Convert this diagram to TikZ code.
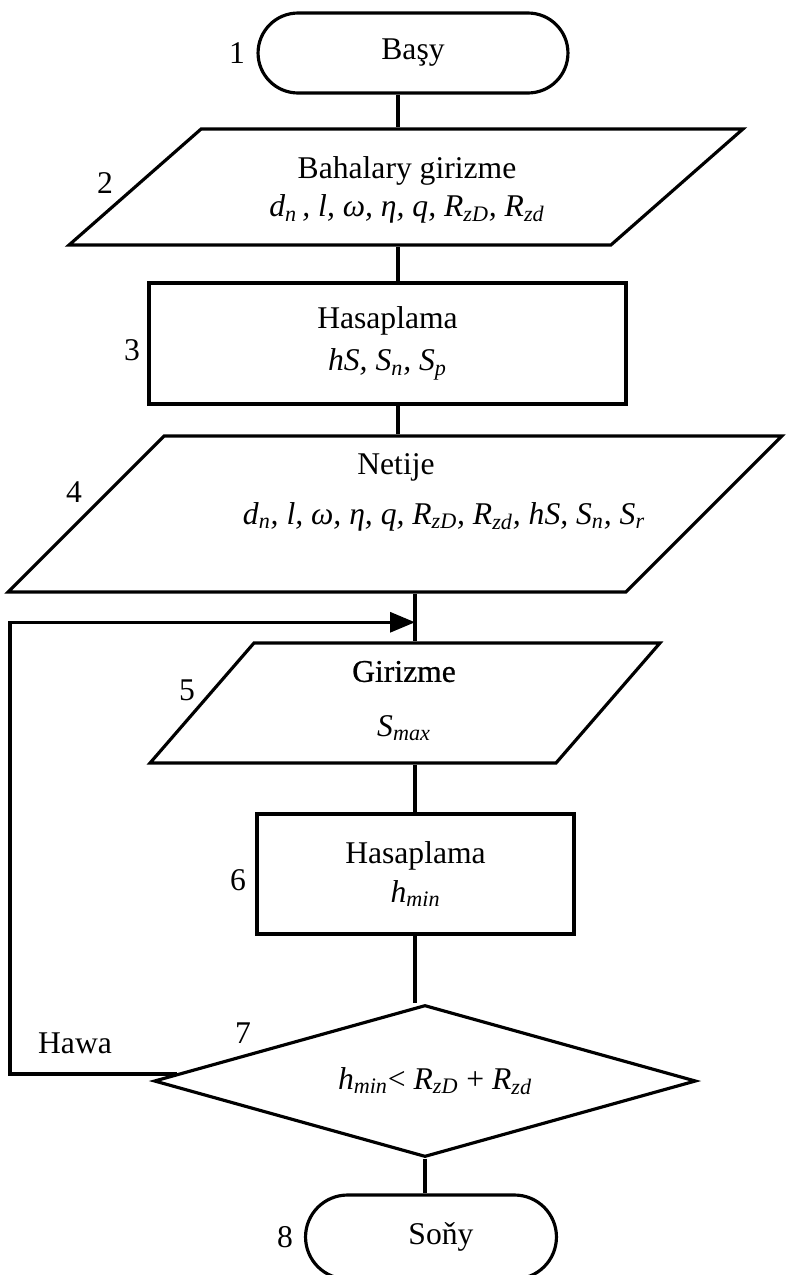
\documentclass[tikz,border=0pt]{standalone}
\usepackage{fontspec}
\setmainfont{Liberation Serif}
\newfontfamily\heavyfont[FakeBold=0.7]{Liberation Serif}
\usetikzlibrary{shapes.geometric,shapes.misc,arrows.meta,calc}
\tikzset{
    block/.style={
           draw=black, line width=1.8pt,
           font=\fontsize{18}{22}\selectfont,
           align=center,
           inner sep=2pt
           },
    term/.style={block, rounded rectangle},
    io/.style={block, trapezium, trapezium stretches body=true,
           inner sep=0pt, text width=1cm, text depth=0pt},
    proc/.style={block, rectangle},
    check/.style={block, diamond},
    num/.style={font=\fontsize{18}{22}\selectfont, inner sep=0pt, align=center},
    conn/.style={line width=1.8pt},
}

\begin{document}
\begin{tikzpicture}[x=0.02cm,y=-0.02cm]
    \useasboundingbox (0,0) rectangle (785,1275);

    % blocks of the flowchart
    \node[term, minimum width=6.34cm, minimum height=1.6cm] (start) at (413,53) {Başy};
    \node[io, minimum width=13.48cm, text height=2.32cm,
          trapezium left angle=41.3, trapezium right angle=138.7] (input) at (406,187) {};
    \node[num] (intext) at (407,190)
        {Bahalary girizme\\
         \textit{d\textsubscript{n}\,, l, ω, η, q, R\textsubscript{zD}, R\textsubscript{zd}}};
    \node[proc, minimum width=9.54cm, minimum height=2.42cm] (calc) at (387.5,343.5)
        {Hasaplama\\[2pt]
         \textit{hS, S\textsubscript{n}, S\textsubscript{p}}};
    \node[io, minimum width=15.48cm, text height=3.12cm,
          trapezium left angle=45, trapezium right angle=135] (output) at (395,514) {};
    \node[num] (outtext) at (396,492)
        {Netije\\[6.5pt]
         \hspace*{1.92cm}\textit{d\textsubscript{n}, l, ω, η, q, R\textsubscript{zD}, R\textsubscript{zd}, hS, S\textsubscript{n}, S\textsubscript{r}}};
    \node[io, minimum width=10.2cm, text height=2.4cm,
          trapezium left angle=49.1, trapezium right angle=130.9] (read) at (405,703) {};
    \node[num] (readtext) at (404,701)
        {{\heavyfont Girizme}\\[9pt]
         \textit{S\textsubscript{max}}};
    \node[proc, minimum width=6.34cm, minimum height=2.4cm] (hcalc) at (415.5,874)
        {Hasaplama\\
         \textit{h\textsubscript{min}}};
    \node[check, minimum width=10.84cm, minimum height=3.04cm, aspect=3.5] (test) at (425,1081)
        {\hspace*{0.4cm}\textit{h\textsubscript{min}}< \textit{R\textsubscript{zD}} + \textit{R\textsubscript{zd}}};
    \node[term, minimum width=5.16cm, minimum height=1.68cm] (stop) at (431,1237) {\hspace*{0.4cm}Soňy};

    % step numbers
    \node[num] (n1) at (237,53) {1};
    \node[num] (n2) at (105,183) {2};
    \node[num] (n3) at (132,350) {3};
    \node[num] (n4) at (74,492) {4};
    \node[num] (n5) at (187,690) {5};
    \node[num] (n6) at (238,880) {6};
    \node[num] (n7) at (243,1033) {7};
    \node[num] (n8) at (285,1237) {8};
    \node[num] (hawa) at (75,1043) {Hawa};

    % connectors
    \coordinate (spineA) at (398,0);
    \coordinate (spineB) at (415,0);
    \coordinate (loopleft) at (10,0);
    \coordinate (join) at ($(output.south -| spineB)!0.6!(read.north -| spineB)$);

    \draw[conn] (start.south -| spineA) -- (input.north -| spineA);
    \draw[conn] (input.south -| spineA) -- (calc.north -| spineA);
    \draw[conn] (calc.south -| spineA) -- (output.north -| spineA);
    \draw[conn] (output.south -| spineB) -- (read.north -| spineB);
    \draw[conn] (read.south -| spineB) -- (hcalc.north -| spineB);
    \draw[conn] (hcalc.south -| spineB) -- (test.north -| spineB);
    \draw[conn] (test.south) -- (stop.north -| test.south);
    \draw[conn, -{Triangle[length=0.5cm, width=0.4cm]}]
        ($(test.west)!0.09!(test.north)$) coordinate (loopstart)
        -- (loopstart -| loopleft) |- (join);
\end{tikzpicture}
\end{document}
